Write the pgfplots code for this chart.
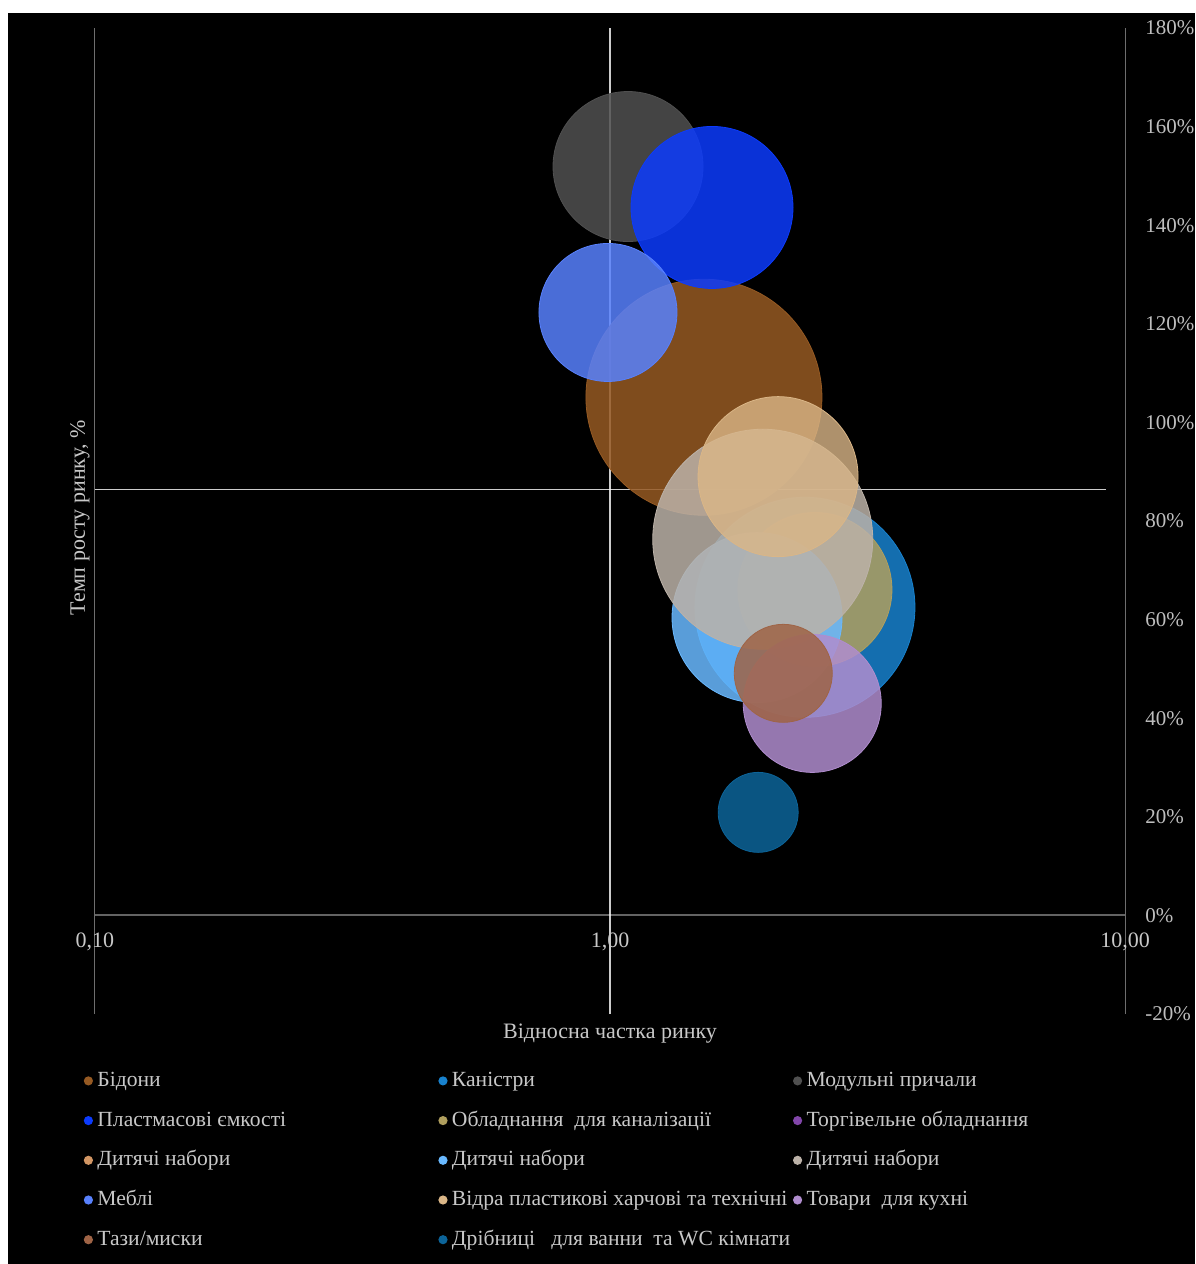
\documentclass[border=0pt]{standalone}
\usepackage{fontspec}
\setmainfont{Liberation Serif}
\usepackage{pgfplots}
\pgfplotsset{compat=1.18}
\definecolor{txt}{RGB}{200,200,200}
\definecolor{tck}{RGB}{190,190,190}
\definecolor{edge}{RGB}{110,110,110}
\definecolor{cBid}{RGB}{150,90,35}
\definecolor{cKan}{RGB}{24,130,206}
\definecolor{cMod}{RGB}{80,80,80}
\definecolor{cPla}{RGB}{12,59,253}
\definecolor{cObl}{RGB}{176,159,94}
\definecolor{cTor}{RGB}{130,70,170}
\definecolor{cDnA}{RGB}{210,150,100}
\definecolor{cDnB}{RGB}{105,185,255}
\definecolor{cDnC}{RGB}{188,178,168}
\definecolor{cMeb}{RGB}{88,129,253}
\definecolor{cVid}{RGB}{218,182,135}
\definecolor{cTov}{RGB}{176,141,206}
\definecolor{cTaz}{RGB}{159,100,70}
\definecolor{cDri}{RGB}{12,100,153}
\begin{document}
\begin{tikzpicture}
\useasboundingbox (0pt,0pt) rectangle (597.5pt,632pt);
\fill[white] (0pt,0pt) rectangle (597.5pt,632pt);
\fill[black] (4pt,0pt) rectangle (597.5pt,625.5pt);
\begin{axis}[
  at={(47.5pt,125pt)}, anchor=south west,
  scale only axis, width=515pt, height=493pt,
  xmode=log, xmin=0.1, xmax=10, ymin=-20, ymax=180,
  axis line style={draw=none},
  xtick=\empty,
  ytick={-20,0,...,180},
  yticklabels={-20\%,0\%,20\%,40\%,60\%,80\%,100\%,120\%,140\%,160\%,180\%},
  yticklabel pos=right,
  yticklabel style={anchor=west, inner sep=0pt, xshift=10pt, font=\fontsize{10.5}{12}\selectfont, text=tck},
  major tick length=0pt,
  tick style={draw=none},
  clip=false,
  legend columns=3,
  legend cell align=left,
  legend style={at={(-0.01126,-0.0568)}, anchor=north west, draw=none, fill=none,
    inner sep=0pt, text=txt, font=\fontsize{10.8}{13}\selectfont, row sep=9.35pt,
    nodes={inner sep=0pt, text height=8pt, text depth=2.5pt},
    /tikz/every odd column/.append style={column sep=2.2pt}},
  legend image code/.code={\fill[#1, fill opacity=1, draw=none] (0pt,0pt) circle (2.3pt);},
]
% frame lines
\addplot[edge, line width=0.5pt, forget plot] coordinates {(0.1,-20) (0.1,180)};
\addplot[edge, line width=0.5pt, forget plot] coordinates {(10,-20) (10,180)};
\addplot[edge!90!black, line width=1pt, forget plot] coordinates {(0.1,0) (10,0)};
% bubbles
\addplot[color=cBid, only marks, mark=*, mark size=59pt, mark options={draw=none, fill=cBid, fill opacity=0.85}] coordinates {(1.522,105.1)};
\addlegendentry{\makebox[170.5pt][l]{Бідони}}
\addplot[color=cKan, only marks, mark=*, mark size=55pt, mark options={draw=none, fill=cKan, fill opacity=0.85}] coordinates {(2.391,62.5)};
\addlegendentry{\makebox[170.5pt][l]{Каністри}}
\addplot[color=cMod, only marks, mark=*, mark size=37.5pt, mark options={draw=none, fill=cMod, fill opacity=0.85}] coordinates {(1.084,151.9)};
\addlegendentry{\makebox[170.5pt][l]{Модульні причали}}
\addplot[color=cPla, only marks, mark=*, mark size=40.5pt, mark options={draw=none, fill=cPla, fill opacity=0.85}] coordinates {(1.578,143.6)};
\addlegendentry{\makebox[170.5pt][l]{Пластмасові ємкості}}
\addplot[color=cObl, only marks, mark=*, mark size=38.5pt, mark options={draw=none, fill=cObl, fill opacity=0.85}] coordinates {(2.50,66.1)};
\addlegendentry{\makebox[170.5pt][l]{Обладнання\ \ для каналізації}}
\addlegendimage{color=cTor}
\addlegendentry{\makebox[170.5pt][l]{Торгівельне обладнання}}
\addlegendimage{color=cDnA}
\addlegendentry{\makebox[170.5pt][l]{Дитячі набори}}
\addplot[color=cDnB, only marks, mark=*, mark size=42.5pt, mark options={draw=none, fill=cDnB, fill opacity=0.85}] coordinates {(1.93,60.4)};
\addlegendentry{\makebox[170.5pt][l]{Дитячі набори}}
\addplot[color=cDnC, only marks, mark=*, mark size=55pt, mark options={draw=none, fill=cDnC, fill opacity=0.85}] coordinates {(1.98,76.3)};
\addlegendentry{\makebox[170.5pt][l]{Дитячі набори}}
\addplot[color=cMeb, only marks, mark=*, mark size=34.5pt, mark options={draw=none, fill=cMeb, fill opacity=0.85}] coordinates {(0.991,122.3)};
\addlegendentry{\makebox[170.5pt][l]{Меблі}}
\addplot[color=cVid, only marks, mark=*, mark size=40pt, mark options={draw=none, fill=cVid, fill opacity=0.8}] coordinates {(2.12,89.0)};
\addlegendentry{\makebox[170.5pt][l]{Відра пластикові харчові та технічні}}
\addplot[color=cTov, only marks, mark=*, mark size=34.5pt, mark options={draw=none, fill=cTov, fill opacity=0.85}] coordinates {(2.47,43.0)};
\addlegendentry{\makebox[170.5pt][l]{Товари\ \ для кухні}}
\addplot[color=cTaz, only marks, mark=*, mark size=24.5pt, mark options={draw=none, fill=cTaz, fill opacity=0.85}] coordinates {(2.17,49.1)};
\addlegendentry{\makebox[170.5pt][l]{Тази/миски}}
\addplot[color=cDri, only marks, mark=*, mark size=20pt, mark options={draw=none, fill=cDri, fill opacity=0.85}] coordinates {(1.94,20.9)};
\addlegendentry{\makebox[170.5pt][l]{Дрібниці\ \ \ для ванни\ \ та WC кімнати}}
% quadrant lines
\addplot[white, line width=0.75pt, opacity=0.8, forget plot] coordinates {(1,-20) (1,180)};
\addplot[white, line width=0.65pt, opacity=0.8, forget plot] coordinates {(0.1,86.4) (9.2,86.4)};
% tick labels on the x axis line
\node[anchor=north, inner sep=0pt, yshift=-8.5pt, text=txt, font=\fontsize{11}{13}\selectfont] at (axis cs:0.1,0) {0,10};
\node[anchor=north, inner sep=0pt, yshift=-8.5pt, text=txt, font=\fontsize{11}{13}\selectfont] at (axis cs:1,0) {1,00};
\node[anchor=north, inner sep=0pt, yshift=-8.5pt, text=txt, font=\fontsize{11}{13}\selectfont] at (axis cs:10,0) {10,00};
\end{axis}
\node[rotate=90, text=txt, font=\fontsize{11}{13}\selectfont] at (40pt,373pt) {Темп росту ринку, \%};
\node[text=txt, font=\fontsize{11}{13}\selectfont] at (305pt,115pt) {Відносна частка ринку};
\end{tikzpicture}
\end{document}
